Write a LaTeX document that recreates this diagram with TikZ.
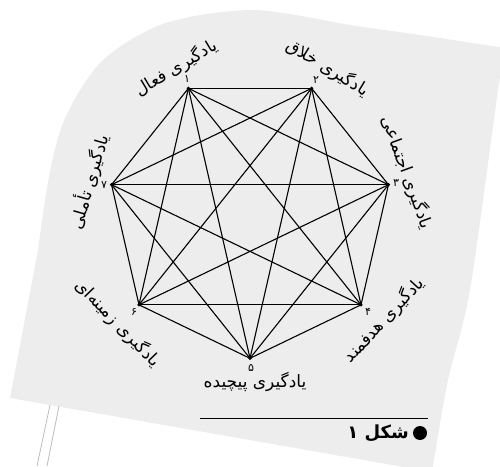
\documentclass[tikz,border=0pt]{standalone}
\usepackage{fontspec}
\newfontfamily\arabicfont[Script=Arabic]{DejaVu Sans}
\TeXXeTstate=1
\usetikzlibrary{calc}
\definecolor{bggray}{HTML}{EDEDED}
\definecolor{polegray}{HTML}{BDBDBD}
\begin{document}
\begin{tikzpicture}[x=1pt,y=1pt,
  edge/.style={line width=1.1pt, black},
  lab/.style={font=\arabicfont\fontsize{17}{19}\selectfont, inner sep=0pt},
  num/.style={font=\arabicfont\fontsize{11}{12}\selectfont, inner sep=0pt},
  captext/.style={font=\arabicfont\bfseries\fontsize{18}{20}\selectfont, inner sep=0pt},
  pole/.style={polegray, line width=0.8pt}]
\clip (0,0) rectangle (500,466);
\useasboundingbox (0,0) rectangle (500,466);
% card
\fill[bggray] (10,68) -- (38,216) plot[smooth] coordinates {(38,216) (45,266) (53,309) (63,343) (80,376) (100,403) (127,424) (160,441) (200,451) (250,456) (290,452) (350,441) (420,431) (505,418)}
  -- plot[smooth] coordinates {(505,418) (498,376) (470,176) (448,86) (433,0) (432,-6)} -- (10,68) -- cycle;
% pole
\coordinate (p1a) at (50,61); \coordinate (p1b) at (37,0);
\coordinate (p2a) at (59,60); \coordinate (p2b) at (47,0);
\draw[pole] (p1a) -- (p1b);
\draw[pole] (p2a) -- (p2b);
% heptagon vertices
\coordinate (O) at (250,249.7);
\foreach \i/\a in {1/115.714,2/64.286,3/12.857,4/-38.571,5/-90,6/-141.429,7/167.143}
  \coordinate (v\i) at ($(O)+(\a:142)$);
\foreach \i in {1,...,7}{
  \foreach \j in {1,...,7}{
    \ifnum\i<\j \draw[edge] (v\i) -- (v\j); \fi
  }
}
\foreach \i in {1,...,7} \fill (v\i) circle (1.8);
% numbers
\node[num] (n1) at (187,387) {۱};
\node[num] (n2) at (316,386) {۲};
\node[num] (n3) at (396,283) {۳};
\node[num] (n4) at (368,154) {۴};
\node[num] (n5) at (251,98) {۵};
\node[num] (n6) at (134,154) {۶};
\node[num] (n7) at (104,281) {۷};
% labels
\node[lab, rotate=31] (l1) at (176,398) {\beginR یادگیری فعال\endR};
\node[lab, rotate=-31] (l2) at (328,398) {\beginR یادگیری خلاق\endR};
\node[lab, rotate=-70] (l3) at (407,294) {\beginR یادگیری اجتماعی\endR};
\node[lab, rotate=47] (l4) at (384,146) {\beginR یادگیری هدفمند\endR};
\node[lab] (l5) at (255,84) {\beginR یادگیری پیچیده\endR};
\node[lab, rotate=-46] (l6) at (118,143) {\beginR یادگیری زمینه‌ای\endR};
\node[lab, rotate=74] (l7) at (89,284) {\beginR یادگیری تأملی\endR};
% caption
\coordinate (c1) at (200,48); \coordinate (c2) at (428,48);
\draw[line width=0.8pt] (c1) -- (c2);
\fill (420,33) circle (7);
\node[captext, anchor=east] (captxt) at (409,33) {\beginR شکل ۱\endR};
\end{tikzpicture}
\end{document}
